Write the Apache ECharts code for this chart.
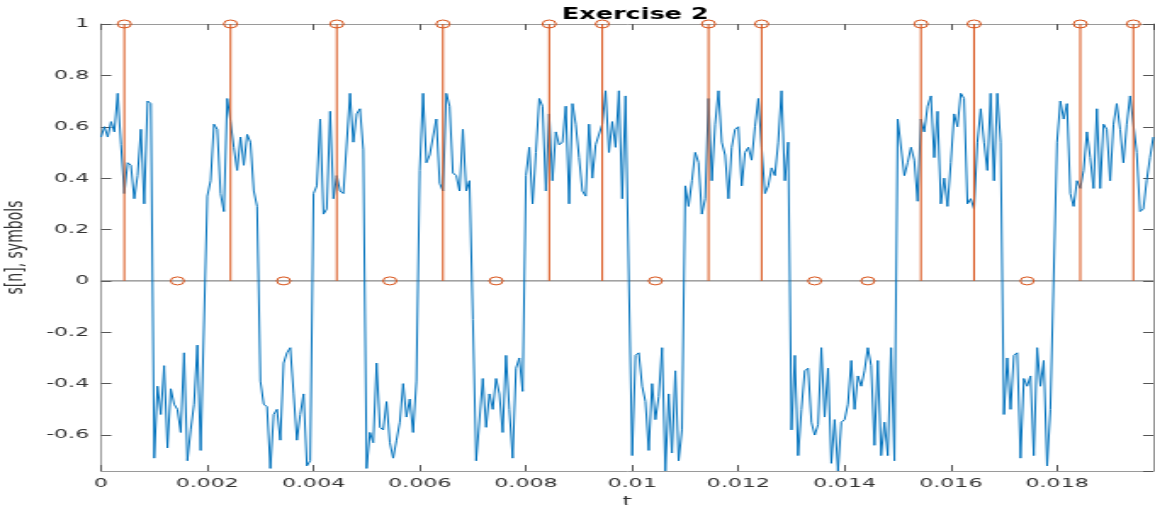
<!DOCTYPE html>
<html>
<head>
<meta charset="utf-8">
<script src="https://cdn.jsdelivr.net/npm/echarts@6/dist/echarts.min.js"></script>
<style>
html,body{margin:0;padding:0;background:#fff;overflow:hidden;width:1155px;height:505px;}
#chart{width:680px;height:505px;transform:scaleX(1.6985);transform-origin:0 0;}
</style>
</head>
<body>
<div id="chart"></div>
<script>
// sampling rate of the signal (Hz)
const fs = 16000;
// received signal s[n]
const signal = [
 0.56, 0.60, 0.56, 0.62, 0.58, 0.73, 0.53, 0.34, 0.46, 0.45, 0.32, 0.41, 0.59, 0.30, 0.70, 0.69,
 -0.69, -0.41, -0.52, -0.33, -0.65, -0.42, -0.48, -0.50, -0.59, -0.28, -0.70, -0.58, -0.48, -0.25, -0.66, -0.66,
 0.33, 0.39, 0.61, 0.59, 0.34, 0.27, 0.71, 0.62, 0.52, 0.43, 0.56, 0.45, 0.57, 0.54, 0.35, 0.29,
 -0.39, -0.48, -0.49, -0.73, -0.52, -0.50, -0.62, -0.32, -0.28, -0.26, -0.44, -0.62, -0.52, -0.44, -0.72, -0.70,
 0.34, 0.37, 0.63, 0.26, 0.28, 0.66, 0.32, 0.41, 0.35, 0.34, 0.34, 0.73, 0.54, 0.65, 0.67, 0.51,
 -0.73, -0.59, -0.63, -0.32, -0.57, -0.58, -0.47, -0.63, -0.69, -0.62, -0.55, -0.40, -0.53, -0.46, -0.59, -0.39,
 0.43, 0.73, 0.46, 0.49, 0.56, 0.63, 0.38, 0.35, 0.73, 0.68, 0.42, 0.41, 0.35, 0.59, 0.35, 0.39,
 -0.15, -0.70, -0.70, -0.38, -0.57, -0.44, -0.50, -0.38, -0.44, -0.59, -0.29, -0.50, -0.69, -0.34, -0.30, -0.43,
 0.41, 0.52, 0.30, 0.50, 0.71, 0.68, 0.35, 0.65, 0.39, 0.58, 0.53, 0.54, 0.68, 0.30, 0.69, 0.61,
 0.48, 0.35, 0.33, 0.61, 0.40, 0.53, 0.53, 0.61, 0.74, 0.50, 0.62, 0.52, 0.74, 0.32, 0.72, 0.00,
 -0.68, -0.29, -0.28, -0.41, -0.47, -0.66, -0.40, -0.54, -0.45, -0.26, -0.74, -0.44, -0.67, -0.35, -0.70, -0.58,
 0.37, 0.29, 0.39, 0.50, 0.46, 0.26, 0.32, 0.71, 0.39, 0.61, 0.74, 0.54, 0.49, 0.32, 0.52, 0.59,
 0.60, 0.37, 0.50, 0.52, 0.47, 0.60, 0.71, 0.52, 0.34, 0.37, 0.44, 0.41, 0.54, 0.74, 0.39, 0.54,
 -0.58, -0.29, -0.68, -0.50, -0.35, -0.34, -0.55, -0.60, -0.56, -0.26, -0.53, -0.34, -0.71, -0.54, -0.74, -0.55,
 -0.54, -0.48, -0.31, -0.50, -0.37, -0.41, -0.35, -0.26, -0.33, -0.64, -0.31, -0.68, -0.55, -0.68, -0.26, -0.70,
 0.63, 0.63, 0.41, 0.46, 0.52, 0.47, 0.31, 0.63, 0.58, 0.68, 0.72, 0.48, 0.66, 0.30, 0.40, 0.29,
 0.46, 0.65, 0.60, 0.73, 0.71, 0.30, 0.32, 0.28, 0.54, 0.67, 0.54, 0.43, 0.73, 0.39, 0.73, 0.54,
 -0.52, -0.30, -0.50, -0.29, -0.28, -0.69, -0.38, -0.41, -0.37, -0.68, -0.26, -0.41, -0.31, -0.72, -0.50, -0.50,
 0.54, 0.70, 0.63, 0.69, 0.34, 0.29, 0.39, 0.36, 0.43, 0.58, 0.48, 0.36, 0.67, 0.36, 0.61, 0.59,
 0.39, 0.61, 0.69, 0.59, 0.46, 0.61, 0.72, 0.72, 0.50, 0.27, 0.28, 0.39, 0.48, 0.56
];
// symbol sampling instants and symbol values (stem plot)
const symbolTimes = [0.0004375, 0.0014375, 0.0024375, 0.0034375, 0.0044375, 0.0054375, 0.0064375, 0.0074375, 0.0084375, 0.0094375,
                     0.0104375, 0.0114375, 0.0124375, 0.0134375, 0.0144375, 0.0154375, 0.0164375, 0.0174375, 0.0184375, 0.0194375];
const symbols = [1, 0, 1, 0, 1, 0, 1, 0, 1, 1, 0, 1, 1, 0, 0, 1, 1, 0, 1, 1];

const titleText = 'Exercise 2';
const xName = 't';
const yName = 's[n], symbols';
const xMin = 0, xMax = (signal.length - 1) / fs, xStep = 0.002;
const yMin = -0.74, yMax = 1;

const signalData = signal.map((v, n) => [n / fs, v]);
const stemData = symbolTimes.map((t, i) => [t, symbols[i]]);

const FONT = 'DejaVu Sans';
const axisColor = '#9a9a9a';
const labelColor = '#333333';

const chart = echarts.init(document.getElementById('chart'), null, {renderer: 'canvas'});
const baseX = {
  type: 'value', min: xMin, max: xMax, interval: xStep,
  axisLine: {show: true, onZero: false, lineStyle: {color: axisColor, width: 1}},
  axisTick: {show: true, inside: true, length: 6, lineStyle: {color: '#555'}},
  splitLine: {show: false}
};
const baseY = {
  type: 'value', min: yMin, max: yMax, splitNumber: 8,
  axisLine: {show: true, onZero: false, lineStyle: {color: axisColor, width: 1}},
  axisTick: {show: true, inside: true, length: 6, lineStyle: {color: '#555'}},
  splitLine: {show: false}
};
chart.setOption({
  animation: false,
  backgroundColor: '#ffffff',
  title: {
    text: titleText, left: 369, top: 3, textAlign: 'center',
    textStyle: {fontFamily: FONT, fontSize: 15, fontWeight: 'bold', color: '#000'}
  },
  grid: {left: 59.5, right: 1, top: 24, bottom: 34, containLabel: false, outerBoundsMode: 'none'},
  xAxis: [
    Object.assign({}, baseX, {
      position: 'bottom',
      axisLabel: {show: true, margin: 6, fontFamily: FONT, fontSize: 13, color: labelColor, showMaxLabel: false},
      name: xName, nameLocation: 'middle', nameGap: 21,
      nameTextStyle: {fontFamily: FONT, fontSize: 14, color: labelColor}
    }),
    Object.assign({}, baseX, {position: 'top', axisLabel: {show: false}})
  ],
  yAxis: [
    Object.assign({}, baseY, {
      position: 'left',
      axisLabel: {show: true, margin: 7, fontFamily: FONT, fontSize: 13, color: labelColor, showMinLabel: false},
      name: yName, nameLocation: 'middle', nameGap: 40,
      nameTextStyle: {fontFamily: FONT, fontSize: 14, color: labelColor}
    }),
    Object.assign({}, baseY, {position: 'right', axisLabel: {show: false}})
  ],
  series: [
    {
      type: 'line', name: 'baseline', xAxisIndex: 0, yAxisIndex: 0,
      data: [[xMin, 0], [xMax, 0]], showSymbol: false, symbol: 'none',
      lineStyle: {color: '#6a6a6a', width: 1}, z: 1, silent: true
    },
    {
      type: 'line', name: 's[n]', xAxisIndex: 0, yAxisIndex: 0,
      data: signalData, showSymbol: false, symbol: 'none',
      lineStyle: {color: '#0072BD', width: 1}, z: 2
    },
    {
      type: 'custom', name: 'symbols', xAxisIndex: 0, yAxisIndex: 0,
      data: stemData, z: 3, clip: false,
      renderItem: function (params, api) {
        const t = api.value(0), v = api.value(1);
        const p0 = api.coord([t, 0]);
        const p1 = api.coord([t, v]);
        return {
          type: 'group',
          children: [
            {type: 'line', shape: {x1: p0[0], y1: p0[1], x2: p1[0], y2: p1[1]},
             style: {stroke: '#D95319', lineWidth: 1, fill: null}},
            {type: 'circle', shape: {cx: p1[0], cy: p1[1], r: 4},
             style: {stroke: '#D95319', lineWidth: 1, fill: 'rgba(0,0,0,0)'}}
          ]
        };
      }
    }
  ]
});
</script>
</body>
</html>
